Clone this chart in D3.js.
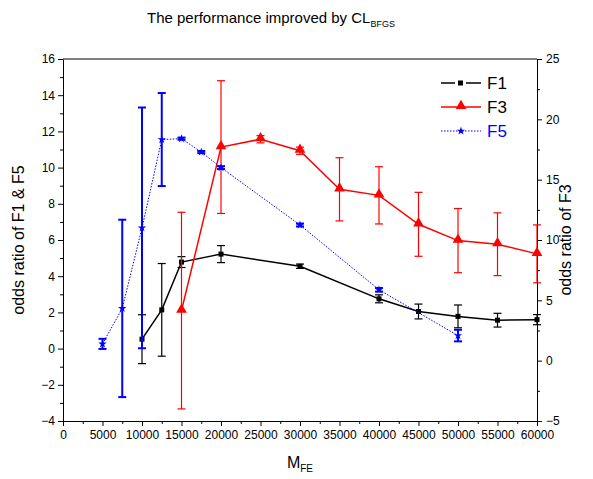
<!DOCTYPE html>
<html>
<head>
<meta charset="utf-8">
<script src="https://cdn.jsdelivr.net/npm/d3@7"></script>
<style>
  body { margin: 0; background: #fff; }
  text { font-family: "Liberation Sans", Arial, sans-serif; }
  .axis path, .axis line { stroke: #000; }
  .axis text { font-size: 12px; fill: #000; }
</style>
</head>
<body>
<div id="chart"></div>
<script>
// data
var xF1 = [10000, 12500, 15000, 20000, 30000, 40000, 45000, 50000, 55000, 60000];
var valF1 = [0.52, 2.14, 4.78, 5.22, 4.55, 2.75, 2.05, 1.78, 1.57, 1.6];
var errF1 = [1.35, 2.56, 0.3, 0.47, 0.12, 0.22, 0.41, 0.63, 0.38, 0.28];

var xF3 = [15000, 20000, 25000, 30000, 35000, 40000, 45000, 50000, 55000, 60000];
var valF3 = [4.15, 17.7, 18.35, 17.4, 14.2, 13.7, 11.3, 9.95, 9.65, 8.85];
var errF3 = [8.15, 5.5, 0.3, 0.3, 2.62, 2.37, 2.65, 2.66, 2.6, 2.4];

var xF5 = [5000, 7500, 10000, 12500, 15000, 17500, 20000, 30000, 40000, 50000];
var valF5 = [0.26, 2.22, 6.67, 11.55, 11.6, 10.86, 10.0, 6.83, 3.25, 0.72];
var errF5 = [0.28, 4.9, 6.65, 2.57, 0.06, 0.06, 0.08, 0.08, 0.1, 0.32];

var xTicks = d3.range(0, 60001, 5000);
var yLeftTicks = d3.range(-4, 17, 2);
var yRightTicks = d3.range(-5, 26, 5);

// set the dimensions and margins
var W = 593, H = 479;
var margin = {top: 59, right: 56, bottom: 58, left: 63},
    width = W - margin.left - margin.right,
    height = H - margin.top - margin.bottom;

var x = d3.scaleLinear().domain([0, 60000]).range([0, width]);
var yL = d3.scaleLinear().domain([-4, 16]).range([height, 0]);
var yR = d3.scaleLinear().domain([-5, 25]).range([height, 0]);

var svg = d3.select("#chart").append("svg")
    .attr("width", W)
    .attr("height", H);

var g = svg.append("g")
    .attr("transform", "translate(" + margin.left + "," + margin.top + ")");

// title
var title = svg.append("text")
    .attr("x", 147)
    .attr("y", 23)
    .style("font-size", "15px");
title.append("tspan").text("The performance improved by CL");
title.append("tspan").attr("dy", 4).style("font-size", "9px").text("BFGS");

// minor ticks
g.append("g")
    .attr("class", "axis")
    .attr("transform", "translate(0," + height + ")")
    .call(d3.axisBottom(x).tickValues(d3.range(2500, 60000, 5000)).tickSize(3).tickFormat(""))
    .select(".domain").remove();
g.append("g")
    .attr("class", "axis")
    .call(d3.axisLeft(yL).tickValues(d3.range(-3, 16, 2)).tickSize(3).tickFormat(""))
    .select(".domain").remove();
g.append("g")
    .attr("class", "axis")
    .attr("transform", "translate(" + width + ",0)")
    .call(d3.axisRight(yR).tickValues(d3.range(-2.5, 25, 5)).tickSize(3).tickFormat(""))
    .select(".domain").remove();

// main axes
g.append("g")
    .attr("class", "axis")
    .attr("transform", "translate(0," + height + ")")
    .call(d3.axisBottom(x).tickValues(xTicks).tickSize(5).tickSizeOuter(0).tickPadding(4).tickFormat(d3.format("d")));

g.append("g")
    .attr("class", "axis")
    .call(d3.axisLeft(yL).tickValues(yLeftTicks).tickSize(5).tickSizeOuter(0).tickPadding(3));

g.append("g")
    .attr("class", "axis")
    .attr("transform", "translate(" + width + ",0)")
    .call(d3.axisRight(yR).tickValues(yRightTicks).tickSize(5).tickSizeOuter(0).tickPadding(4));

// top frame line
g.append("line")
    .attr("x1", 0).attr("x2", width)
    .attr("y1", 0).attr("y2", 0)
    .attr("stroke", "#000");

// axis titles
svg.append("text")
    .attr("transform", "translate(24," + (margin.top + height / 2) + ") rotate(-90)")
    .attr("text-anchor", "middle")
    .style("font-size", "16px")
    .text("odds ratio of F1 & F5");

svg.append("text")
    .attr("transform", "translate(571," + (margin.top + height / 2) + ") rotate(-90)")
    .attr("text-anchor", "middle")
    .style("font-size", "16px")
    .text("odds ratio of F3");

var xl = svg.append("text")
    .attr("x", 300)
    .attr("y", 468)
    .attr("text-anchor", "middle")
    .style("font-size", "16px");
xl.append("tspan").text("M");
xl.append("tspan").attr("dy", 4).style("font-size", "10px").text("FE");

// draw one series with error bars
function drawSeries(xs, vals, errs, yScale, color, lineW, dash, errW) {
    var data = xs.map(function(d, i) { return {x: d, v: vals[i], e: errs[i]}; });
    var line = d3.line()
        .x(function(d) { return x(d.x); })
        .y(function(d) { return yScale(d.v); });

    var s = g.append("g");
    var bars = s.selectAll(".eb").data(data).enter().append("g")
        .attr("stroke", color)
        .attr("stroke-width", errW);
    bars.append("line")
        .attr("x1", function(d) { return x(d.x); })
        .attr("x2", function(d) { return x(d.x); })
        .attr("y1", function(d) { return yScale(d.v - d.e); })
        .attr("y2", function(d) { return yScale(d.v + d.e); });
    [-1, 1].forEach(function(k) {
        bars.append("line")
            .attr("x1", function(d) { return x(d.x) - 4; })
            .attr("x2", function(d) { return x(d.x) + 4; })
            .attr("y1", function(d) { return yScale(d.v + k * d.e); })
            .attr("y2", function(d) { return yScale(d.v + k * d.e); });
    });

    s.append("path")
        .datum(data)
        .attr("fill", "none")
        .attr("stroke", color)
        .attr("stroke-width", lineW)
        .attr("stroke-dasharray", dash)
        .attr("d", line);
    return {g: s, data: data, y: yScale};
}

var s1 = drawSeries(xF1, valF1, errF1, yL, "#000", 1.5, null, 1.2);
s1.g.selectAll(".m").data(s1.data).enter().append("rect")
    .attr("x", function(d) { return x(d.x) - 2.5; })
    .attr("y", function(d) { return yL(d.v) - 2.5; })
    .attr("width", 5).attr("height", 5)
    .attr("fill", "#000");

var s3 = drawSeries(xF3, valF3, errF3, yR, "#f00", 1.5, null, 1.2);
var tri = d3.symbol().type(d3.symbolTriangle).size(50);
s3.g.selectAll(".m").data(s3.data).enter().append("path")
    .attr("d", tri)
    .attr("transform", function(d) { return "translate(" + x(d.x) + "," + (yR(d.v) - 1) + ")"; })
    .attr("fill", "#f00");

var s5 = drawSeries(xF5, valF5, errF5, yL, "#00f", 1, "1.5,1.5", 2);
var star = d3.symbol().type(d3.symbolStar).size(22);
s5.g.selectAll(".m").data(s5.data).enter().append("path")
    .attr("d", star)
    .attr("transform", function(d) { return "translate(" + x(d.x) + "," + yL(d.v) + ")"; })
    .attr("fill", "#00f");

// legend
var legend = [
    {name: "F1", color: "#000", dash: null, w: 1.5, sym: "sq", tc: "#000"},
    {name: "F3", color: "#f00", dash: null, w: 1.5, sym: "tri", tc: "#000"},
    {name: "F5", color: "#00f", dash: "1.5,1.5", w: 1, sym: "star", tc: "#00f"}
];
var lg = svg.append("g").attr("transform", "translate(441,83)");
legend.forEach(function(d, i) {
    var row = lg.append("g").attr("transform", "translate(0," + (i * 24) + ")");
    row.append("line")
        .attr("x1", 0).attr("x2", 40)
        .attr("stroke", d.color)
        .attr("stroke-width", d.w)
        .attr("stroke-dasharray", d.dash);
    if (d.sym === "sq") {
        row.append("rect").attr("x", 17).attr("y", -2.5).attr("width", 5).attr("height", 5).attr("fill", d.color);
        row.append("rect").attr("x", 14).attr("y", -2).attr("width", 3).attr("height", 4).attr("fill", "#fff");
        row.append("rect").attr("x", 22).attr("y", -2).attr("width", 3).attr("height", 4).attr("fill", "#fff");
    } else if (d.sym === "tri") {
        row.append("path").attr("d", tri).attr("transform", "translate(20,-1)").attr("fill", d.color);
    } else {
        row.append("path").attr("d", star).attr("transform", "translate(20,0)").attr("fill", d.color);
    }
    row.append("text")
        .attr("x", 46)
        .attr("y", 6)
        .style("font-size", "17px")
        .attr("fill", d.tc)
        .text(d.name);
});
</script>
</body>
</html>
